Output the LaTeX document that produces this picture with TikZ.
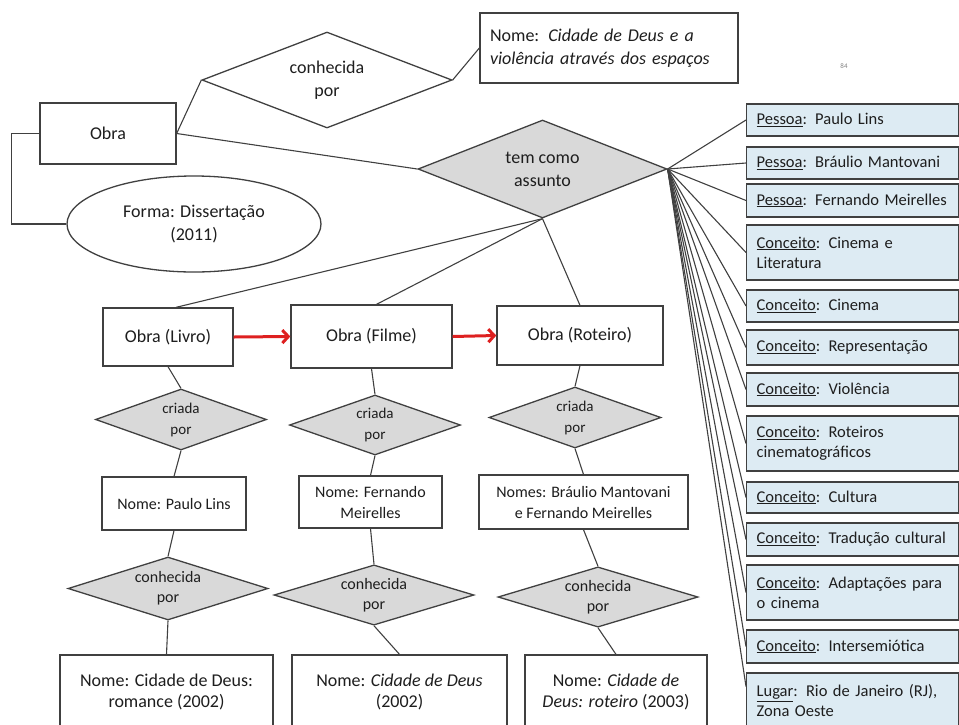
\documentclass[tikz,border=0pt]{standalone}
\usepackage{fontspec}
\setmainfont{Carlito}
\usetikzlibrary{shapes.geometric,arrows.meta}
\definecolor{ln}{RGB}{64,64,64}
\definecolor{gfill}{RGB}{217,217,217}
\definecolor{bfill}{RGB}{221,235,243}
\definecolor{txt}{RGB}{30,30,30}
\definecolor{arr}{RGB}{222,32,32}
\tikzset{
  ent/.style={rectangle, draw=ln, line width=1.3pt, fill=white, inner sep=0pt, align=center, text=txt},
  rel/.style={diamond, draw=ln, line width=1.3pt, fill=gfill, inner sep=0pt, aspect=2.5, align=center, text=txt},
  relw/.style={rel, fill=white},
  link/.style={draw=ln, line width=1.1pt},
  redarr/.style={draw=arr, line width=3pt, -{Straight Barb[length=6pt,width=13pt]}},
  att/.style={rectangle, draw=ln, line width=1.3pt, fill=bfill, inner sep=0pt, inner xsep=10pt, anchor=west,
    minimum width=212pt, text width=192pt, align=left, text=txt, font=\fontsize{16.5}{20}\selectfont},
  cpf/.style={font=\fontsize{15}{21}\selectfont},
  kpf/.style={font=\fontsize{16}{20}\selectfont},
  nmf/.style={font=\fontsize{16}{21}\selectfont},
  btf/.style={font=\fontsize{18}{21}\selectfont}
}
\begin{document}
\begin{tikzpicture}[x=1pt,y=-1pt,font=\fontsize{18}{23}\selectfont]
\useasboundingbox (0,0) rectangle (959,724);
\clip (0,0) rectangle (959,724);

% top part
\node[ent, minimum width=136pt, minimum height=61pt] (obra) at (108,133.5) {Obra};
\node[relw, minimum width=250pt, minimum height=96pt] (kpt) at (327,80) {conhecida\\por};
\node[ent, minimum width=258pt, minimum height=70pt, inner xsep=10pt, text width=238pt, align=left] (ntop) at (609,48)
  {Nome: \textit{Cidade de Deus e a}\\\textit{violência através dos espaços}};
\node[rel, minimum width=249pt, minimum height=98pt] (tca) at (542.5,169) {tem como\\assunto};
\node[ellipse, draw=ln, line width=1.3pt, fill=white, inner sep=0pt, minimum width=254pt, minimum height=96pt, align=center, text=txt]
  (forma) at (194,224) {Forma: Dissertação\\(2011)};
\node[font=\fontsize{7}{8}\selectfont, text=gray] (pg) at (844,66) {84};

% works
\node[ent, minimum width=130pt, minimum height=58pt] (livro) at (168,337) {Obra (Livro)};
\node[ent, minimum width=161pt, minimum height=63pt] (filme) at (371.5,336.5) {Obra (Filme)};
\node[ent, minimum width=166pt, minimum height=59pt] (rot) at (580,335.5) {Obra (Roteiro)};

% criada por
\node[rel, cpf, minimum width=171pt, minimum height=61pt] (cp1) at (181,419.5) {criada\\por};
\node[rel, cpf, minimum width=171pt, minimum height=60pt] (cp2) at (375,425) {criada\\por};
\node[rel, cpf, minimum width=172pt, minimum height=61pt] (cp3) at (575,417.5) {criada\\por};

% names
\node[ent, nmf, minimum width=144pt, minimum height=53pt] (n1) at (174,503.5) {Nome: Paulo Lins};
\node[ent, nmf, minimum width=143pt, minimum height=52pt] (n2) at (370.5,502) {Nome: Fernando\\Meirelles};
\node[ent, nmf, minimum width=209pt, minimum height=54pt] (n3) at (583.5,502) {Nomes: Bráulio Mantovani\\e Fernando Meirelles};

% conhecida por (lower)
\node[rel, kpf, minimum width=200pt, minimum height=63pt] (kp1) at (168,588.5) {conhecida\\por};
\node[rel, kpf, minimum width=200pt, minimum height=60pt] (kp2) at (374,595) {conhecida\\por};
\node[rel, kpf, minimum width=200pt, minimum height=60pt] (kp3) at (598,597) {conhecida\\por};

% bottom boxes
\node[ent, btf, minimum width=213pt, minimum height=74pt] (b1) at (166.5,692) {Nome: Cidade de Deus:\\romance (2002)};
\node[ent, btf, minimum width=215pt, minimum height=74pt] (b2) at (399.5,692) {Nome: \textit{Cidade de Deus}\\(2002)};
\node[ent, btf, minimum width=182pt, minimum height=74pt] (b3) at (616,692) {Nome: \textit{Cidade de}\\\textit{Deus: roteiro} (2003)};

% right column
\node[att, minimum height=32pt] (r1) at (746,120) {\underline{Pessoa}: Paulo Lins};
\node[att, minimum height=32pt] (r2) at (746,163) {\underline{Pessoa}: Bráulio Mantovani};
\node[att, minimum height=33pt] (r3) at (746,200.5) {\underline{Pessoa}: Fernando Meirelles};
\node[att, minimum height=55pt] (r4) at (746,252.5) {\underline{Conceito}: Cinema e\\Literatura};
\node[att, minimum height=32pt] (r5) at (746,306) {\underline{Conceito}: Cinema};
\node[att, minimum height=35pt] (r6) at (746,347.5) {\underline{Conceito}: Representação};
\node[att, minimum height=33pt] (r7) at (746,389.5) {\underline{Conceito}: Violência};
\node[att, minimum height=55pt] (r8) at (746,443.5) {\underline{Conceito}: Roteiros\\cinematográficos};
\node[att, minimum height=31pt] (r9) at (746,497.5) {\underline{Conceito}: Cultura};
\node[att, minimum height=33pt] (r10) at (746,539.5) {\underline{Conceito}: Tradução cultural};
\node[att, minimum height=55pt] (r11) at (746,592.5) {\underline{Conceito}: Adaptações para\\o cinema};
\node[att, minimum height=33pt] (r12) at (746,646.5) {\underline{Conceito}: Intersemiótica};
\node[att, minimum height=55pt] (r13) at (746,700.5) {\underline{Lugar}: Rio de Janeiro (RJ),\\Zona Oeste};

% connectors
\draw[link] (obra.east) -- (kpt.west);
\draw[link] (kpt.east) -- (ntop.west);
\draw[link] (obra.east) -- (tca.west);
\draw[link] (obra.west) -- ++(-28,0) |- (forma.west);
\draw[link] (tca.south) -- ([xshift=8pt]livro.north);
\draw[link] (tca.south) -- ([xshift=5pt]filme.north);
\draw[link] (tca.south) -- (rot.north);
\draw[redarr] (livro.east) -- (filme.west);
\draw[redarr] (filme.east) -- (rot.west);
\draw[link] (livro.south) -- (cp1.north);
\draw[link] (filme.south) -- (cp2.north);
\draw[link] (rot.south) -- (cp3.north);
\draw[link] (cp1.south) -- (n1.north);
\draw[link] (cp2.south) -- (n2.north);
\draw[link] (cp3.south) -- (n3.north);
\draw[link] (n1.south) -- (kp1.north);
\draw[link] (n2.south) -- (kp2.north);
\draw[link] (n3.south) -- (kp3.north);
\draw[link] (kp1.south) -- (b1.north);
\draw[link] (kp2.south) -- (b2.north);
\draw[link] (kp3.south) -- (b3.north);
\foreach \i in {1,...,12} {\draw[link] (tca.east) -- (r\i.west);}
\draw[link] (tca.east) -- ([yshift=14pt]r13.west);
\end{tikzpicture}
\end{document}
